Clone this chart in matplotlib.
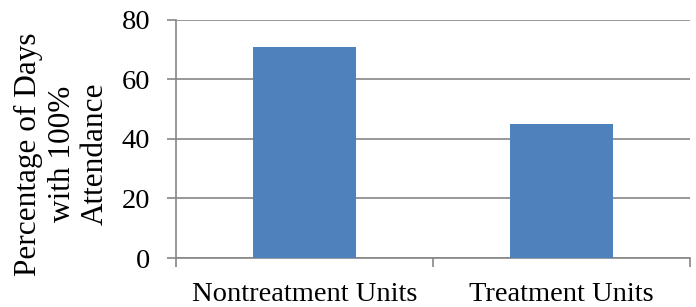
import matplotlib.pyplot as plt

categories = ['Nontreatment Units', 'Treatment Units']
values = [71, 45]
yticks = [0, 20, 40, 60, 80]

plt.rcParams['font.family'] = ['Liberation Serif', 'DejaVu Serif']

fig = plt.figure(figsize=(6.96, 3.07), dpi=100)
ax = fig.add_axes([0.2529, 0.1596, 0.7385, 0.7753])

grid_col = '#868686'
ax.bar(range(len(categories)), values, width=0.4, color='#4F81BD', zorder=3)

ax.set_xlim(-0.5, len(categories) - 0.5)
ax.set_ylim(0, 80)
ax.set_yticks(yticks)
ax.yaxis.grid(True, color=grid_col, linewidth=1.2, zorder=0)
ax.set_axisbelow(True)

ax.set_xticks(range(len(categories)))
ax.set_xticklabels(categories, fontsize=20.5)
ax.tick_params(axis='x', length=0, pad=17)
# category boundary ticks
ax.set_xticks([-0.5, 0.5, 1.5], minor=True)
ax.tick_params(axis='x', which='minor', length=6.5, width=1.2, color=grid_col, direction='out')
ax.tick_params(axis='y', labelsize=20.5, length=6.5, width=1.2, color=grid_col, pad=12)

for s in ['top', 'right']:
    ax.spines[s].set_visible(False)
for s in ['left', 'bottom']:
    ax.spines[s].set_color(grid_col)
    ax.spines[s].set_linewidth(1.2)

fig.text(62 / 696, 0.498, 'Percentage of Days\nwith 100%\nAttendance', rotation=90,
         ha='center', va='center', fontsize=22.5, linespacing=1.2, multialignment='center')

fig.savefig('out.png', dpi=100)
